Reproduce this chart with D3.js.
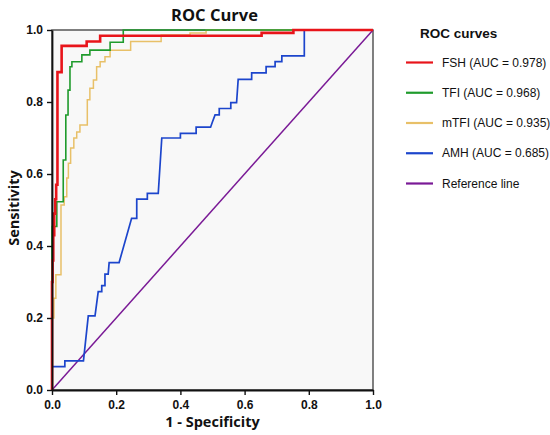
<!DOCTYPE html>
<html>
<head>
<meta charset="utf-8">
<script src="https://cdn.jsdelivr.net/npm/d3@7"></script>
<style>
  body { margin: 0; background: #fff; }
  svg { display: block; }
</style>
</head>
<body>
<div id="chart"></div>
<script>
// ROC points: [1 - specificity, sensitivity]
const fsh = [[0,0],[0,0.30],[0.002,0.30],[0.002,0.36],[0.004,0.36],[0.004,0.43],[0.007,0.43],[0.007,0.49],
  [0.010,0.49],[0.010,0.53],[0.013,0.53],[0.013,0.57],[0.017,0.57],[0.017,0.61],[0.017,0.883],[0.030,0.883],
  [0.030,0.956],[0.108,0.956],[0.108,0.968],[0.150,0.968],[0.150,0.984],[0.653,0.984],[0.653,0.992],
  [0.752,0.992],[0.752,1],[1,1]];
const tfi = [[0,0],[0,0.454],[0.015,0.454],[0.015,0.523],[0.035,0.523],[0.035,0.639],[0.043,0.639],
  [0.043,0.764],[0.050,0.764],[0.050,0.833],[0.056,0.833],[0.056,0.898],[0.062,0.898],[0.062,0.912],
  [0.093,0.912],[0.093,0.931],[0.118,0.931],[0.118,0.944],[0.181,0.944],[0.181,0.966],[0.222,0.966],
  [0.222,1],[1,1]];
const mtfi = [[0,0],[0,0.20],[0.006,0.20],[0.006,0.255],[0.012,0.255],[0.012,0.32],[0.028,0.32],
  [0.028,0.514],[0.038,0.514],[0.038,0.537],[0.046,0.537],[0.046,0.589],[0.051,0.589],[0.051,0.63],
  [0.058,0.63],[0.058,0.672],[0.068,0.672],[0.068,0.70],[0.077,0.70],[0.077,0.717],[0.087,0.717],
  [0.087,0.736],[0.110,0.736],[0.110,0.806],[0.118,0.806],[0.118,0.838],[0.129,0.838],[0.129,0.861],
  [0.139,0.861],[0.139,0.898],[0.150,0.898],[0.150,0.912],[0.165,0.912],[0.165,0.926],[0.181,0.926],
  [0.181,0.944],[0.245,0.944],[0.245,0.968],[0.340,0.968],[0.340,0.986],[0.430,0.986],[0.430,0.992],
  [0.480,0.992],[0.480,1],[1,1]];
const amh = [[0,0],[0,0.065],[0.040,0.065],[0.040,0.081],[0.098,0.081],[0.113,0.206],[0.134,0.206],
  [0.144,0.273],[0.155,0.273],[0.155,0.290],[0.165,0.290],[0.165,0.322],[0.175,0.322],[0.178,0.354],
  [0.209,0.354],[0.248,0.477],[0.264,0.477],[0.264,0.530],[0.297,0.530],[0.297,0.546],[0.331,0.546],
  [0.342,0.700],[0.400,0.700],[0.400,0.713],[0.449,0.713],[0.449,0.730],[0.494,0.730],[0.500,0.745],
  [0.508,0.764],[0.521,0.764],[0.521,0.782],[0.557,0.782],[0.557,0.798],[0.575,0.798],[0.580,0.863],
  [0.622,0.863],[0.622,0.881],[0.667,0.881],[0.667,0.898],[0.695,0.898],[0.695,0.912],[0.716,0.912],
  [0.716,0.928],[0.786,0.928],[0.786,1],[1,1]];
const refLine = [[0,0],[1,1]];

const seriesNames = ["FSH (AUC = 0.978)", "TFI (AUC = 0.968)", "mTFI (AUC = 0.935)", "AMH (AUC = 0.685)", "Reference line"];
const seriesData = [fsh, tfi, mtfi, amh, refLine];
const seriesColors = ["#e8141a", "#1f9b2c", "#e8c068", "#1c45cc", "#7a1a96"];
const seriesWidths = [2.6, 1.6, 1.5, 1.7, 1.5];
const tickValues = [0, 0.2, 0.4, 0.6, 0.8, 1.0];

const width = 550, height = 435;
const margin = {top: 30, right: 177, bottom: 45, left: 52};

const svg = d3.select("#chart").append("svg")
  .attr("width", width)
  .attr("height", height)
  .attr("viewBox", [0, 0, width, height]);

const x = d3.scaleLinear().domain([0, 1]).range([margin.left, width - margin.right]);
const y = d3.scaleLinear().domain([0, 1]).range([height - margin.bottom, margin.top]);

// plot background and frame
svg.append("rect")
  .attr("x", x(0)).attr("y", y(1))
  .attr("width", x(1) - x(0)).attr("height", y(0) - y(1))
  .attr("fill", "#f8f8f8")
  .attr("stroke", "#4a4a4a")
  .attr("stroke-width", 1.4);

const line = d3.line()
  .x(d => x(d[0]))
  .y(d => y(d[1]));

// draw reference first, then curves from AMH up to FSH
const order = [4, 3, 2, 1, 0];
svg.append("g")
    .attr("fill", "none")
    .attr("stroke-linejoin", "miter")
  .selectAll("path")
  .data(order)
  .join("path")
    .attr("d", i => line(seriesData[i]))
    .attr("stroke", i => seriesColors[i])
    .attr("stroke-width", i => seriesWidths[i]);

const fmt = d3.format(".1f");

const gx = svg.append("g")
  .attr("transform", `translate(0,${y(0)})`)
  .call(d3.axisBottom(x).tickValues(tickValues).tickFormat(fmt).tickSize(5).tickSizeOuter(0));
const gy = svg.append("g")
  .attr("transform", `translate(${x(0)},0)`)
  .call(d3.axisLeft(y).tickValues(tickValues).tickFormat(fmt).tickSize(5).tickSizeOuter(0));

[gx, gy].forEach(g => {
  g.select(".domain").attr("stroke", "#111").attr("stroke-width", 1.8);
  g.selectAll(".tick line").attr("stroke", "#111").attr("stroke-width", 1.4);
  g.selectAll(".tick text")
    .attr("fill", "#111")
    .attr("font-family", "Liberation Sans, Arial, sans-serif")
    .attr("font-weight", "bold")
    .attr("font-size", 12);
});
gx.selectAll(".tick text").attr("dy", "0.95em");
gy.selectAll(".tick text").attr("dx", "-1px");

// titles
svg.append("text")
  .attr("x", (x(0) + x(1)) / 2 + 2)
  .attr("y", 21)
  .attr("text-anchor", "middle")
  .attr("font-family", "Open Sans, sans-serif")
  .attr("font-weight", "bold")
  .attr("font-size", 16.5)
  .attr("fill", "#111")
  .text("ROC Curve");

svg.append("text")
  .attr("x", (x(0) + x(1)) / 2)
  .attr("y", 427)
  .attr("text-anchor", "middle")
  .attr("font-family", "Open Sans, sans-serif")
  .attr("font-weight", "bold")
  .attr("font-size", 14.5)
  .attr("fill", "#111")
  .text("1 - Specificity");

svg.append("text")
  .attr("transform", `translate(19,${(y(0) + y(1)) / 2 - 2}) rotate(-90)`)
  .attr("text-anchor", "middle")
  .attr("font-family", "Open Sans, sans-serif")
  .attr("font-weight", "bold")
  .attr("font-size", 14.5)
  .attr("fill", "#111")
  .text("Sensitivity");

// legend
const legend = svg.append("g")
  .attr("font-family", "Liberation Sans, Arial, sans-serif")
  .attr("fill", "#111");

legend.append("text")
  .attr("x", 420)
  .attr("y", 38)
  .attr("font-weight", "bold")
  .attr("font-size", 13.5)
  .text("ROC curves");

const rowY = d3.scaleLinear().domain([0, 4]).range([62.5, 183.5]);
const rows = legend.selectAll("g.row")
  .data(d3.range(seriesNames.length))
  .join("g")
    .attr("class", "row")
    .attr("transform", i => `translate(0,${rowY(i)})`);
rows.append("line")
  .attr("x1", 406).attr("x2", 433)
  .attr("stroke", i => seriesColors[i])
  .attr("stroke-width", 2.2);
rows.append("text")
  .attr("x", 442)
  .attr("dy", "0.35em")
  .attr("font-size", 12)
  .text(i => seriesNames[i]);
</script>
</body>
</html>
